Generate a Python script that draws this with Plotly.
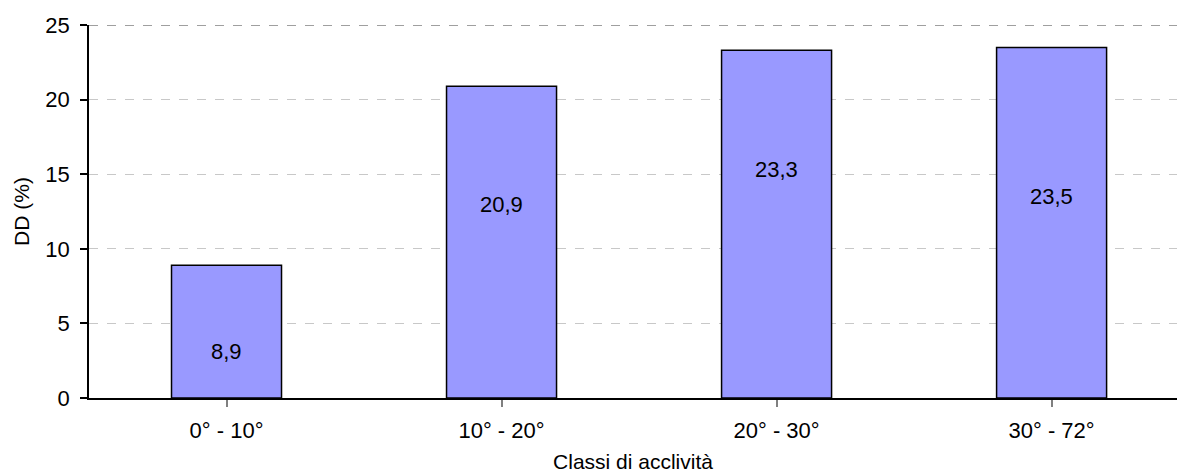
import plotly.graph_objects as go

# Slope classes and DD percentage per class
categories = ["0° - 10°", "10° - 20°", "20° - 30°", "30° - 72°"]
dd_values = [8.9, 20.9, 23.3, 23.5]
# vertical placement of each value label inside its bar (data units)
label_y = [3.1, 13.0, 15.3, 13.5]
y_ticks = [0, 5, 10, 15, 20, 25]

FONT = "Liberation Sans, Arial, sans-serif"
FS = 22

fig = go.Figure()
fig.add_trace(go.Bar(
    x=list(range(len(categories))),
    y=dd_values,
    width=0.4,
    marker=dict(color="#9999FF", line=dict(color="#000000", width=1.5)),
    hoverinfo="skip",
))

for i, (v, ly) in enumerate(zip(dd_values, label_y)):
    fig.add_annotation(
        x=i, y=ly, text=f"{v:.1f}".replace(".", ","),
        showarrow=False, xref="x", yref="y",
        font=dict(family=FONT, size=FS, color="#000000"),
    )

# top boundary line at the maximum of the scale
fig.add_shape(type="line", xref="paper", yref="y", x0=0, x1=1, y0=25, y1=25,
              line=dict(color="#808080", width=1.5, dash="dash"))

fig.update_layout(
    width=1177, height=473,
    margin=dict(l=89, r=0, t=25, b=75),
    paper_bgcolor="white", plot_bgcolor="white",
    showlegend=False,
    font=dict(family=FONT, size=FS, color="#000000"),
    bargap=0.6,
)

fig.update_xaxes(
    tickmode="array",
    tickvals=list(range(len(categories))),
    ticktext=categories,
    range=[-0.5, 3.456],
    tickson="boundaries",
    ticks="outside", ticklen=7, tickcolor="#808080", tickwidth=1.5,
    showline=True, linecolor="#000000", linewidth=1.5,
    showgrid=False, zeroline=False,
    ticklabelstandoff=5,
    title=dict(text="Classi di acclività", standoff=12, font=dict(size=21)),
    tickfont=dict(size=FS),
)

fig.update_yaxes(
    range=[0, 25],
    tickmode="array", tickvals=y_ticks,
    ticks="outside", ticklen=7, tickcolor="#000000", tickwidth=1.5,
    showline=True, linecolor="#000000", linewidth=1.5,
    showgrid=True, gridcolor="#C8C8C8", griddash="dash", gridwidth=1,
    zeroline=False,
    ticklabelstandoff=6,
    title=dict(text="DD (%)", standoff=10, font=dict(size=21)),
    tickfont=dict(size=FS),
)

fig.write_html("out.html")
